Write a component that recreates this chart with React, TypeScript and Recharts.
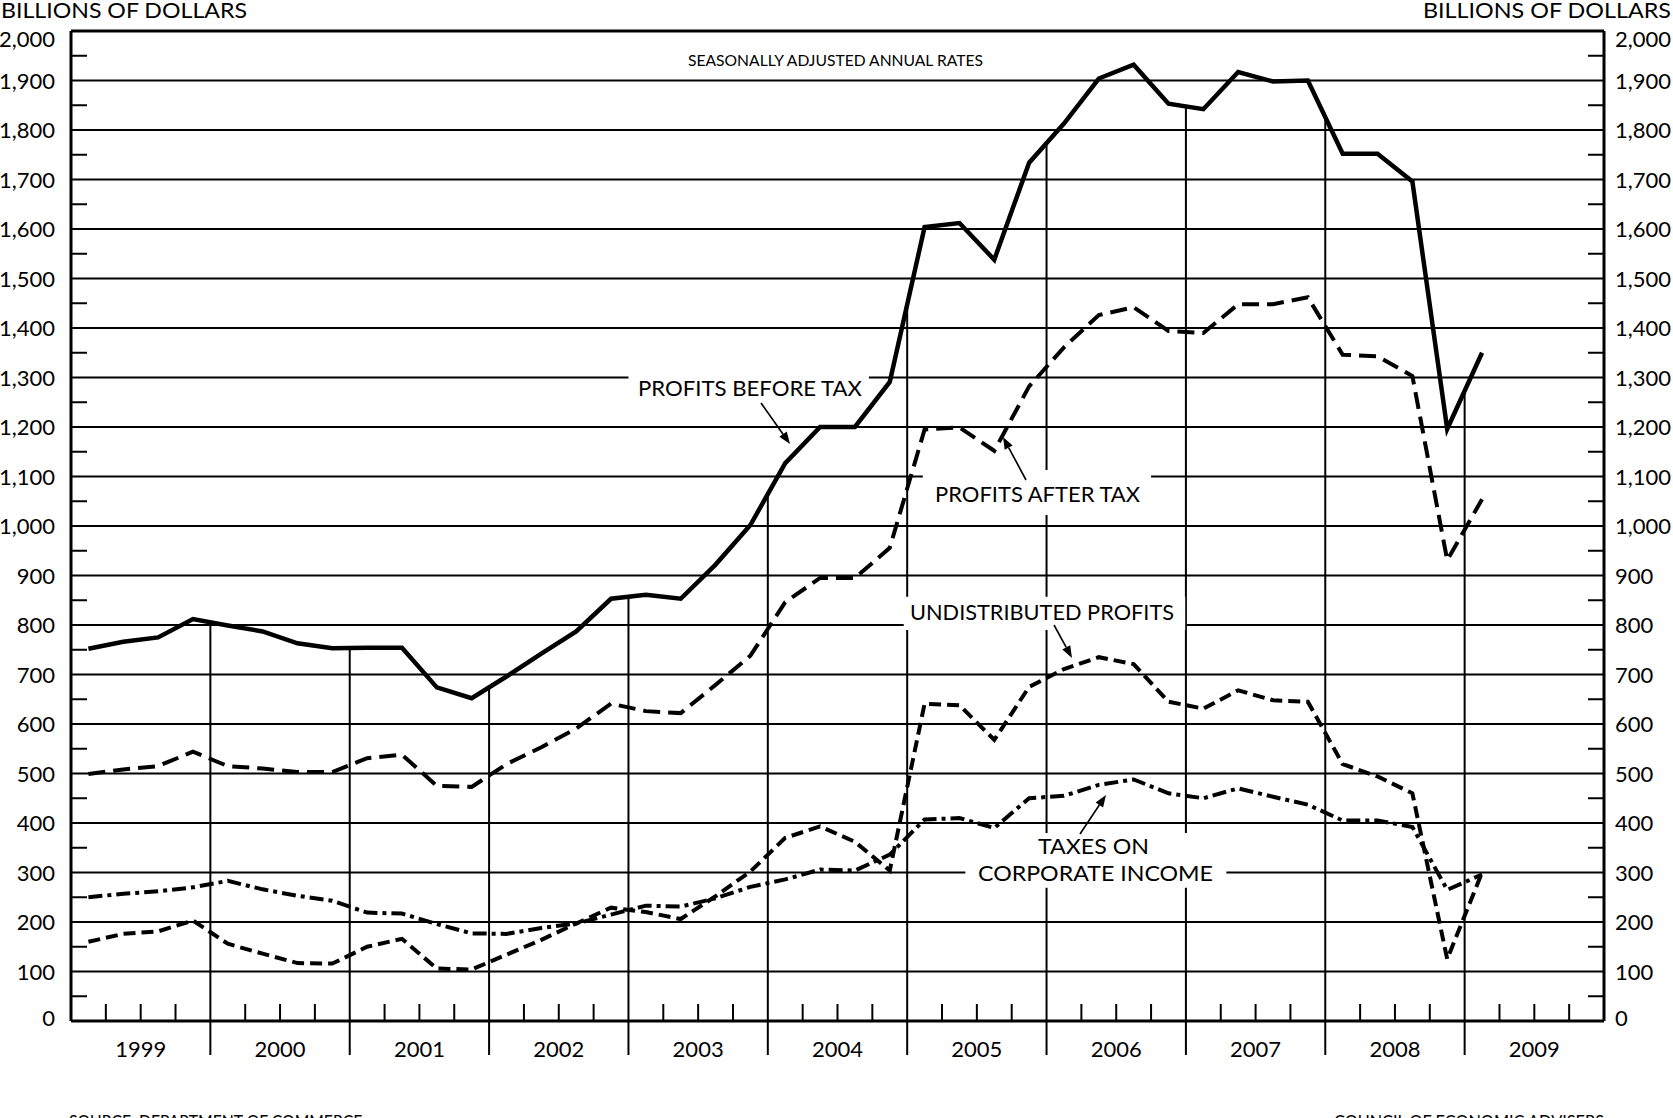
import React from 'react';
import { LineChart, Line, XAxis, YAxis, ReferenceLine, ReferenceArea } from 'recharts';

// ---------- DATA (quarterly, 1999 Q1 .. 2009 Q1, billions of dollars, SAAR) ----------
const years = ['1999', '2000', '2001', '2002', '2003', '2004', '2005', '2006', '2007', '2008', '2009'];

const profitsBeforeTax = [
  752, 766, 775, 812, 799, 787, 763, 753, 754, 754, 674, 652,
  696, 742, 787, 853, 861, 853, 922, 1002, 1127, 1200, 1200, 1291,
  1604, 1612, 1538, 1734, 1813, 1904, 1932, 1853, 1842, 1917, 1898, 1900,
  1752, 1752, 1696, 1196, 1350,
];
const profitsAfterTax = [
  499, 508, 515, 544, 515, 510, 503, 503, 531, 538, 475, 473,
  519, 553, 591, 641, 626, 622, 679, 738, 846, 895, 895, 956,
  1195, 1199, 1152, 1282, 1361, 1426, 1442, 1394, 1390, 1448, 1448, 1462,
  1346, 1343, 1303, 931, 1054,
];
const undistributedProfits = [
  160, 176, 181, 203, 156, 136, 117, 116, 150, 166, 106, 104,
  134, 164, 197, 229, 220, 206, 252, 302, 370, 393, 362, 304,
  641, 638, 568, 675, 711, 735, 721, 645, 631, 668, 648, 645,
  519, 494, 460, 125, 300,
];
const taxesOnCorporateIncome = [
  250, 257, 262, 270, 283, 266, 253, 243, 219, 217, 196, 177,
  176, 188, 197, 215, 233, 231, 248, 271, 286, 306, 304, 336,
  407, 410, 390, 450, 455, 477, 488, 460, 450, 470, 453, 437,
  405, 405, 392, 265, 296,
];
const yMajorTicks = [0, 100, 200, 300, 400, 500, 600, 700, 800, 900, 1000, 1100, 1200, 1300, 1400, 1500, 1600, 1700, 1800, 1900, 2000];
const yMinorTicks = [50, 150, 250, 350, 450, 550, 650, 750, 850, 950, 1050, 1150, 1250, 1350, 1450, 1550, 1650, 1750, 1850, 1950];

// ---------- built from the arrays ----------
const data = profitsBeforeTax.map((v, i) => ({
  x: i + 0.5,
  before: v,
  after: profitsAfterTax[i],
  undist: undistributedProfits[i],
  taxes: taxesOnCorporateIncome[i],
}));
const yAllTicks = [...yMajorTicks, ...yMinorTicks].sort((a, b) => a - b);
const quarterCount = years.length * 4;
const xTicks = Array.from({ length: quarterCount - 1 }, (_, i) => i + 1);
const yearBoundaries = xTicks.filter((t) => t % 4 === 0 && t / 4 < years.length);
const boundaryValue = (b: number) => {
  const l = profitsBeforeTax[b - 1];
  const r = profitsBeforeTax[b];
  return r === undefined ? l : (l + r) / 2;
};

const FONT = 'Lato, "Open Sans", sans-serif';
const fmt = (v: number) => v.toLocaleString('en-US');

const LeftTick = (props: any) => {
  const { x, y, payload } = props;
  const v = payload.value;
  if (v % 100 !== 0) return <line x1={x} x2={x + 16} y1={y} y2={y} stroke="#000" strokeWidth={2} />;
  const dy = v === 2000 ? 16 : v === 0 ? 5 : 8;
  return (
    <text x={x - 16} y={y + dy} textAnchor="end" fontFamily={FONT} fontSize={22} fill="#000">
      {fmt(v)}
    </text>
  );
};
const RightTick = (props: any) => {
  const { x, y, payload } = props;
  const v = payload.value;
  if (v % 100 !== 0) return <line x1={x} x2={x - 16} y1={y} y2={y} stroke="#000" strokeWidth={2} />;
  const dy = v === 2000 ? 16 : v === 0 ? 5 : 8;
  return (
    <text x={x + 11} y={y + dy} textAnchor="start" fontFamily={FONT} fontSize={22} fill="#000">
      {fmt(v)}
    </text>
  );
};
const XTick = (props: any) => {
  const { x, y, payload } = props;
  const v = payload.value;
  return (
    <g>
      {v % 4 === 0 ? (
        <line x1={x} x2={x} y1={y} y2={y + 34} stroke="#000" strokeWidth={2} />
      ) : (
        <line x1={x} x2={x} y1={y} y2={y - 17} stroke="#000" strokeWidth={2} />
      )}
      {v % 4 === 2 && (
        <text x={x} y={y + 36} textAnchor="middle" fontFamily={FONT} fontSize={22} fill="#000">
          {years[(v - 2) / 4]}
        </text>
      )}
    </g>
  );
};

const Arrow = ({ x1, y1, x2, y2 }: { x1: number; y1: number; x2: number; y2: number }) => {
  const ang = Math.atan2(y2 - y1, x2 - x1);
  const L = 12;
  const W = 4.5;
  const bx = x2 - L * Math.cos(ang);
  const by = y2 - L * Math.sin(ang);
  const px = -Math.sin(ang) * W;
  const py = Math.cos(ang) * W;
  return (
    <g>
      <line x1={x1} y1={y1} x2={bx} y2={by} stroke="#000" strokeWidth={1.6} />
      <polygon points={`${x2},${y2} ${bx + px},${by + py} ${bx - px},${by - py}`} fill="#000" />
    </g>
  );
};

const T = ({ x, y, len, size, children, anchor }: any) => (
  <text
    x={x}
    y={y}
    fontFamily={FONT}
    fontSize={size}
    fill="#000"
    textAnchor={anchor || 'start'}
    textLength={len}
    lengthAdjust="spacingAndGlyphs"
  >
    {children}
  </text>
);

export default function App() {
  return (
    <div style={{ position: 'absolute', left: 0, top: 0, width: 1673, height: 1118, background: '#fff', overflow: 'hidden' }}>
      <LineChart width={1673} height={1118} data={data} margin={{ top: 31, right: 0, bottom: 0, left: 0 }}>
        <XAxis
          dataKey="x"
          type="number"
          domain={[0, quarterCount]}
          ticks={xTicks}
          interval={0}
          height={97}
          tickSize={0}
          tickMargin={0}
          tickLine={false}
          tick={<XTick />}
          axisLine={{ stroke: '#000', strokeWidth: 3 }}
          allowDataOverflow
        />
        <YAxis
          orientation="left"
          width={71}
          domain={[0, 2000]}
          ticks={yAllTicks}
          interval={0}
          tickSize={0}
          tickMargin={0}
          tickLine={false}
          tick={<LeftTick />}
          axisLine={{ stroke: '#000', strokeWidth: 3 }}
          allowDataOverflow
        />
        <YAxis
          yAxisId="r"
          orientation="right"
          width={69}
          domain={[0, 2000]}
          ticks={yAllTicks}
          interval={0}
          tickSize={0}
          tickMargin={0}
          tickLine={false}
          tick={<RightTick />}
          axisLine={{ stroke: '#000', strokeWidth: 3 }}
          allowDataOverflow
        />
        {yMajorTicks.filter((v) => v > 0 && v < 2000).map((v) => (
          <ReferenceLine key={'g' + v} y={v} stroke="#000" strokeWidth={2} zIndex={50} />
        ))}
        <ReferenceLine y={2000} stroke="#000" strokeWidth={3} zIndex={50} />
        {yearBoundaries.map((b) => (
          <ReferenceLine
            key={'yb' + b}
            segment={[{ x: b, y: 0 }, { x: b, y: boundaryValue(b) }]}
            stroke="#000"
            strokeWidth={2}
            zIndex={50}
          />
        ))}
        <ReferenceArea x1={16.0} x2={22.9} y1={1255} y2={1315} fill="#fff" fillOpacity={1} stroke="none" zIndex={60} />
        <ReferenceArea x1={24.45} x2={31.0} y1={1022} y2={1113} fill="#fff" fillOpacity={1} stroke="none" zIndex={60} />
        <ReferenceArea x1={23.9} x2={31.98} y1={790} y2={857} fill="#fff" fillOpacity={1} stroke="none" zIndex={60} />
        <ReferenceArea x1={25.67} x2={33.16} y1={269} y2={380} fill="#fff" fillOpacity={1} stroke="none" zIndex={60} />
        <Line
          dataKey="before"
          stroke="#000"
          strokeWidth={4.5}
          dot={false}
          activeDot={false}
          isAnimationActive={false}
          strokeLinejoin="miter"
        />
        <Line
          dataKey="after"
          stroke="#000"
          strokeWidth={4}
          strokeDasharray="17 8"
          dot={false}
          activeDot={false}
          isAnimationActive={false}
        />
        <Line
          dataKey="undist"
          stroke="#000"
          strokeWidth={4}
          strokeDasharray="12 6"
          dot={false}
          activeDot={false}
          isAnimationActive={false}
        />
        <Line
          dataKey="taxes"
          stroke="#000"
          strokeWidth={4}
          strokeDasharray="14 5 4 5"
          dot={false}
          activeDot={false}
          isAnimationActive={false}
        />
      </LineChart>
      <svg
        width={1673}
        height={1118}
        style={{ position: 'absolute', left: 0, top: 0, pointerEvents: 'none' }}
      >
        <T x={1} y={18} len={246} size={22}>BILLIONS OF DOLLARS</T>
        <T x={1423} y={18} len={248} size={22}>BILLIONS OF DOLLARS</T>
        <T x={688} y={66} len={295} size={15}>SEASONALLY ADJUSTED ANNUAL RATES</T>
        <T x={638} y={396} len={224} size={21}>PROFITS BEFORE TAX</T>
        <T x={935} y={502} len={205} size={21}>PROFITS AFTER TAX</T>
        <T x={910} y={620} len={264} size={21}>UNDISTRIBUTED PROFITS</T>
        <T x={1038} y={854} len={111} size={21}>TAXES ON</T>
        <T x={978} y={881} len={235} size={21}>CORPORATE INCOME</T>
        <T x={69} y={1128} len={297} size={18}>SOURCE: DEPARTMENT OF COMMERCE.</T>
        <T x={1334} y={1128} len={270} size={18}>COUNCIL OF ECONOMIC ADVISERS</T>
        <Arrow x1={761} y1={403} x2={790} y2={444} />
        <Arrow x1={1026} y1={480} x2={1003} y2={437} />
        <Arrow x1={1054} y1={625} x2={1072} y2={658} />
        <Arrow x1={1080} y1={834} x2={1106} y2={795} />
      </svg>
    </div>
  );
}
